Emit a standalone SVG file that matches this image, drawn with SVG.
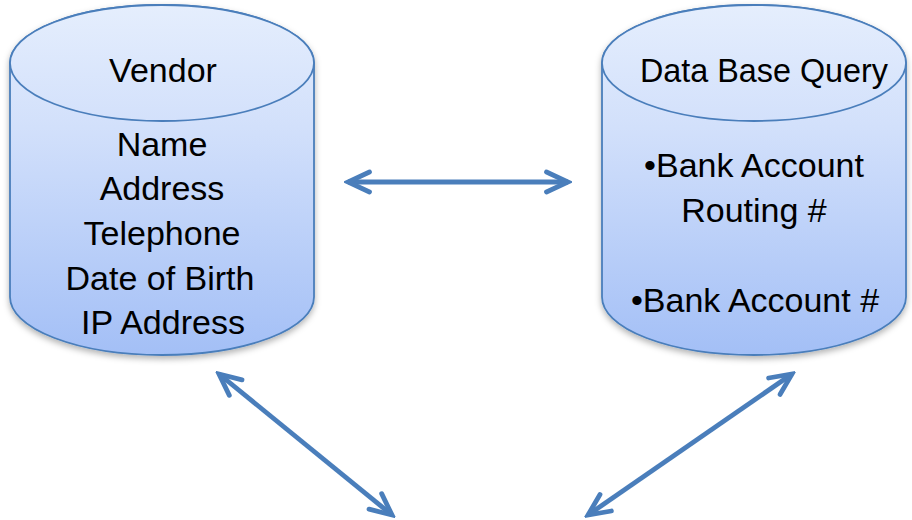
<svg xmlns="http://www.w3.org/2000/svg" width="912" height="520" viewBox="0 0 912 520">
  <defs>
    <linearGradient id="fillGrad" gradientUnits="userSpaceOnUse" x1="0" y1="5" x2="0" y2="356">
      <stop offset="0" stop-color="#e5eefd"/>
      <stop offset="0.35" stop-color="#d2e0fb"/>
      <stop offset="1" stop-color="#a3bff6"/>
    </linearGradient>
    <filter id="shadow" x="-10%" y="-10%" width="120%" height="125%">
      <feDropShadow dx="0" dy="3" stdDeviation="3" flood-color="#000" flood-opacity="0.3"/>
    </filter>
    <marker id="chev" viewBox="-30 -15 34 30" refX="0" refY="0" markerUnits="userSpaceOnUse" markerWidth="34" markerHeight="30" orient="auto-start-reverse">
      <path d="M -21.5 -10 L 0 0 L -21.5 10" fill="none" stroke="#4a7ebb" stroke-width="4.8" stroke-linecap="round" stroke-linejoin="miter"/>
    </marker>
  </defs>
  <style>
    .body { fill: url(#fillGrad); stroke: #4a7ebb; stroke-width: 1.8; }
    .top { fill: url(#fillGrad); stroke: #4a7ebb; stroke-width: 1.8; }
    .lbl { font-family: "Liberation Sans", Arial, sans-serif; font-size: 34px; fill: #000; text-anchor: middle; }
    .conn { fill: none; stroke: #4a7ebb; stroke-width: 4.8; marker-start: url(#chev); marker-end: url(#chev); }
  </style>
  <rect width="912" height="520" fill="#fff"/>

  <g id="vendor">
    <g filter="url(#shadow)">
      <path class="body" d="M 10 63 A 152 58 0 0 1 314 63 L 314 297 A 152 58 0 0 1 10 297 Z"/>
    </g>
    <ellipse class="top" cx="162" cy="63" rx="152" ry="58"/>
    <text class="lbl" x="163" y="82">Vendor</text>
    <text class="lbl" x="162" y="156">Name</text>
    <text class="lbl" x="162" y="200">Address</text>
    <text class="lbl" x="162" y="245">Telephone</text>
    <text class="lbl" x="160" y="290">Date of Birth</text>
    <text class="lbl" x="163" y="334">IP Address</text>
  </g>

  <g id="database-query">
    <g filter="url(#shadow)">
      <path class="body" d="M 602 63 A 152 58 0 0 1 906 63 L 906 297 A 152 58 0 0 1 602 297 Z"/>
    </g>
    <ellipse class="top" cx="754" cy="63" rx="152" ry="58"/>
    <text class="lbl" x="764" y="82" textLength="248" lengthAdjust="spacingAndGlyphs">Data Base Query</text>
    <text class="lbl" x="754" y="177">•Bank Account</text>
    <text class="lbl" x="754" y="222">Routing #</text>
    <text class="lbl" x="755" y="312">•Bank Account #</text>
  </g>

  <g id="connectors">
    <line class="conn" x1="348" y1="182" x2="568" y2="182"/>
    <line class="conn" x1="219" y1="374" x2="392" y2="515"/>
    <line class="conn" x1="588" y1="515" x2="792" y2="374"/>
  </g>
</svg>
